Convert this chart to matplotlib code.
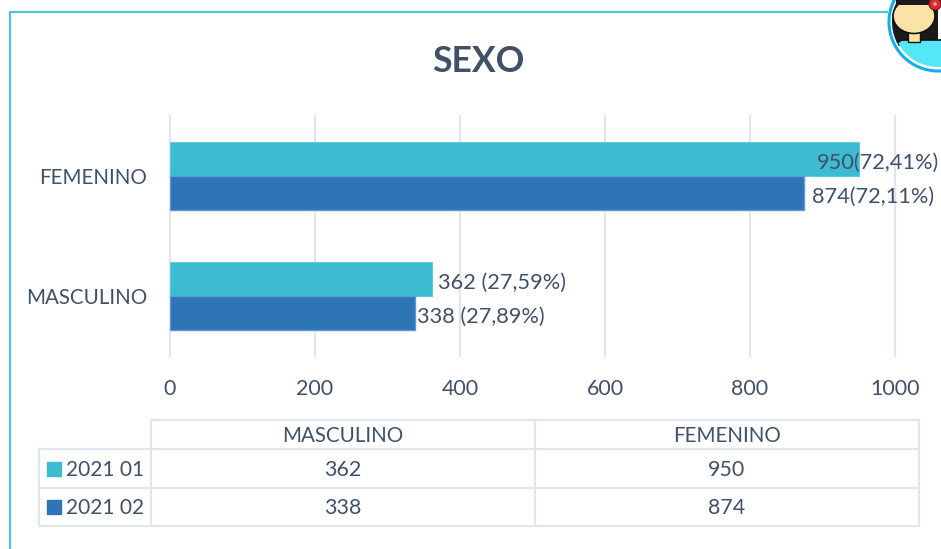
import matplotlib
matplotlib.use('Agg')
import matplotlib.pyplot as plt
import matplotlib.patches as patches
import numpy as np

W, H = 941, 549

categories = ['MASCULINO', 'FEMENINO']
series_names = ['2021 01', '2021 02']
values_01 = [362, 950]
values_02 = [338, 874]
labels_01 = ['362 (27,59%)', '950(72,41%)']
labels_02 = ['338 (27,89%)', '874(72,11%)']
xticks = [0, 200, 400, 600, 800, 1000]

TEXT = '#3F5068'
GRID = '#E1E5EC'
TEAL = '#3DBBD1'
BLUE = '#2E75B6'
FRAME = '#4FC3D9'

plt.rcParams['font.family'] = ['Lato', 'DejaVu Sans']

fig = plt.figure(figsize=(W / 100, H / 100), dpi=100)

# pixel overlay for frame, table and avatar
bg = fig.add_axes([0, 0, 1, 1])
bg.set_xlim(0, W)
bg.set_ylim(H, 0)
bg.axis('off')

# main chart, x 0..1000 = px 170..895, y = px 116..356
ax = fig.add_axes([170 / W, 1 - 356 / H, 725 / W, 240 / H])
ax.patch.set_alpha(0)
y = np.arange(len(categories))
bar_h = 0.285
ax.barh(y + bar_h / 2, values_01, bar_h, color=TEAL, edgecolor='#5CCBDD', linewidth=0.8, zorder=3)
ax.barh(y - bar_h / 2, values_02, bar_h, color=BLUE, edgecolor='#5B9BD5', linewidth=1.0, zorder=3)
ax.set_xlim(0, 1000)
ax.set_ylim(-0.5, 1.5)
ax.set_xticks(xticks)
ax.set_yticks(y, categories)
ax.grid(axis='x', color=GRID, linewidth=1.6, zorder=0)
for g in ax.get_xgridlines():
    g.set_clip_on(False)
ax.tick_params(length=0, labelcolor=TEXT)
ax.tick_params(axis='x', pad=16.3, labelsize=15.4)
ax.tick_params(axis='y', pad=16.5, labelsize=14.8)
for s in ax.spines.values():
    s.set_visible(False)

# data labels; the FEMENINO ones are pulled back over the bar like in the original
label_shift_01 = [6, -42]
label_shift_02 = [2, 8]
for i in range(len(categories)):
    ax.annotate(labels_01[i], (values_01[i], y[i] + bar_h / 2), xytext=(label_shift_01[i] * 0.72, -3),
                textcoords='offset points', va='center', fontsize=15.7, color=TEXT, zorder=5, annotation_clip=False)
    ax.annotate(labels_02[i], (values_02[i], y[i] - bar_h / 2), xytext=(label_shift_02[i] * 0.72, -3),
                textcoords='offset points', va='center', fontsize=15.7, color=TEXT, zorder=5, annotation_clip=False)

# frame
bg.plot([888, 10, 10], [11.5, 11.5, H], color=FRAME, linewidth=1.6, solid_capstyle='butt')

bg.text(478.5, 62, 'SEXO', ha='center', va='center', fontsize=25.6, fontweight='bold', color=TEXT)

# data table
col_x = [151, 535, 919]
row_y = [420, 449, 488, 526]
lw = 1.6
bg.plot([col_x[0], col_x[2]], [row_y[0]] * 2, color=GRID, lw=lw)
bg.plot([39, col_x[2]], [row_y[1]] * 2, color=GRID, lw=lw)
bg.plot([39, col_x[2]], [row_y[2]] * 2, color=GRID, lw=lw)
bg.plot([39, col_x[2]], [row_y[3]] * 2, color=GRID, lw=lw)
bg.plot([39, 39], [row_y[1], row_y[3]], color=GRID, lw=lw)
for cx in col_x:
    bg.plot([cx, cx], [row_y[0], row_y[3]], color=GRID, lw=lw)

bg.text(343, 436.5, categories[0], ha='center', va='center', fontsize=14.8, color=TEXT)
bg.text(727, 436.5, categories[1], ha='center', va='center', fontsize=14.8, color=TEXT)
rows = [(series_names[0], values_01, TEAL), (series_names[1], values_02, BLUE)]
for r, (name, vals, col) in enumerate(rows):
    cy = (row_y[r + 1] + row_y[r + 2]) / 2
    bg.add_patch(patches.Rectangle((47, cy - 7), 14, 14, color=col))
    bg.text(66, cy + 1, name, ha='left', va='center', fontsize=15.0, color=TEXT)
    bg.text(343, cy + 1, str(vals[0]), ha='center', va='center', fontsize=15.4, color=TEXT)
    bg.text(727, cy + 1, str(vals[1]), ha='center', va='center', fontsize=15.4, color=TEXT)

# avatar in the corner
ring = patches.Circle((938, 22), 49, facecolor='white', edgecolor='#17AEE8', linewidth=2.2, zorder=6)
bg.add_patch(ring)
hair = patches.Rectangle((892, 0), 46, 46, facecolor='#1A1A1A', zorder=7)
bg.add_patch(hair)
hair.set_clip_path(patches.Circle((938, 22), 46, transform=bg.transData))
body = patches.FancyBboxPatch((897, 40), 60, 30, boxstyle='round,pad=0,rounding_size=7',
                              facecolor='#55E6F7', edgecolor='#111111', linewidth=1.2, zorder=8)
bg.add_patch(body)
body.set_clip_path(patches.Circle((938, 22), 45, transform=bg.transData))
bg.add_patch(patches.Rectangle((908, 28), 12, 14, facecolor='#FBE3A8', edgecolor='#111111', linewidth=1, zorder=9))
bg.add_patch(patches.Ellipse((914, 16), 42, 35, facecolor='#FBE3A8', edgecolor='#111111', linewidth=1.2, zorder=10))
bg.add_patch(patches.Rectangle((896, 0), 45, 5, facecolor='#1A1A1A', zorder=11))
bg.add_patch(patches.Circle((935, 4), 6, facecolor='#D9283C', edgecolor='#7A1020', linewidth=0.8, zorder=12))
bg.add_patch(patches.Circle((935, 4), 1.8, facecolor='#E8B23A', zorder=13))

fig.savefig('out.png', dpi=100, facecolor='white')
